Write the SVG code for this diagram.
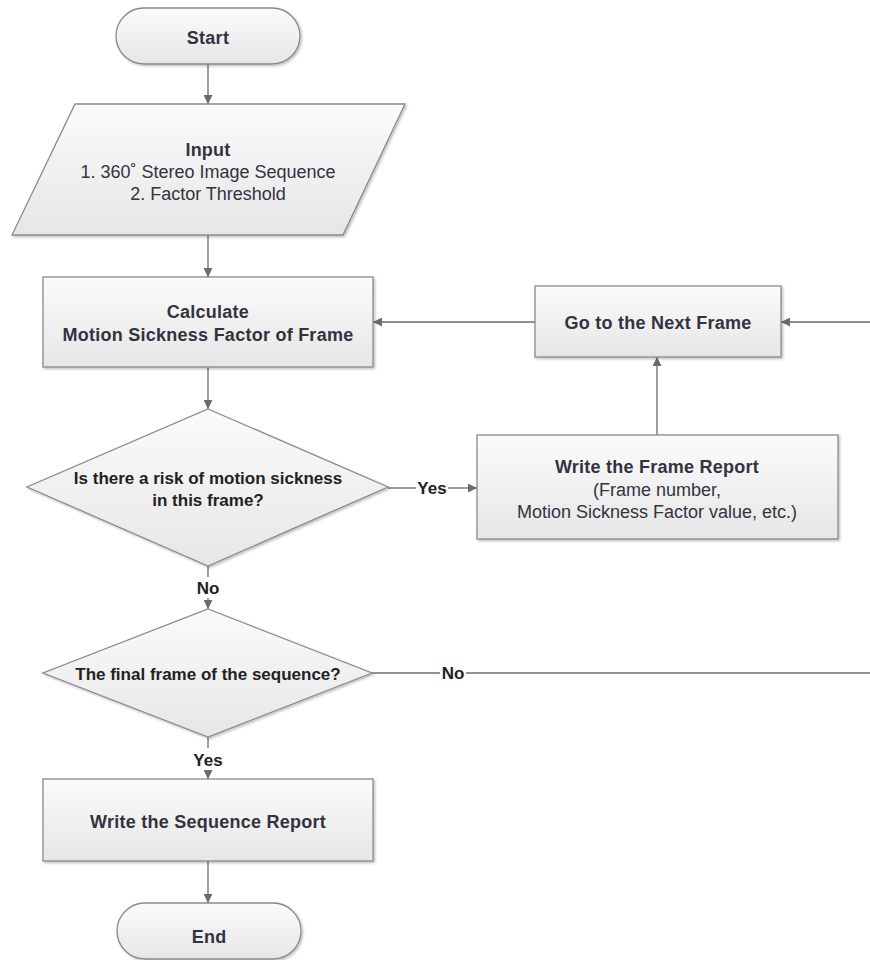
<svg xmlns="http://www.w3.org/2000/svg" width="870" height="960" viewBox="0 0 870 960">
<defs>
<linearGradient id="g" x1="0" y1="0" x2="0" y2="1">
<stop offset="0" stop-color="#fbfbfb"/>
<stop offset="1" stop-color="#e6e6e6"/>
</linearGradient>
<filter id="sh" x="-5%" y="-5%" width="115%" height="120%">
<feDropShadow dx="1.5" dy="1.5" stdDeviation="1" flood-color="#000" flood-opacity="0.25"/>
</filter>
<marker id="ah" viewBox="0 0 10 10" refX="10" refY="5" markerWidth="9" markerHeight="9" markerUnits="userSpaceOnUse" orient="auto">
<path d="M0,0 L10,5 L0,10 Z" fill="#6b6b6b"/>
</marker>
</defs>
<style>
.shape{fill:url(#g);stroke:#8a8a8a;stroke-width:1.3;filter:url(#sh)}
.t{font-family:"Liberation Sans",Arial,sans-serif;font-size:18px;fill:#333340;text-anchor:middle}
.b{font-weight:bold;letter-spacing:0.25px}
.d{font-family:"Liberation Sans",Tahoma,sans-serif;font-size:17px;font-weight:bold;fill:#222;text-anchor:middle}
.c{fill:none;stroke:#6b6b6b;stroke-width:1.3}
.lbl{font-family:"Liberation Sans",Tahoma,sans-serif;font-size:17px;font-weight:bold;fill:#222;text-anchor:middle}
</style>
<rect width="870" height="960" fill="#fff"/>
<g id="connectors">
<line class="c" x1="208" y1="64" x2="208" y2="104" marker-end="url(#ah)"/>
<line class="c" x1="208" y1="235" x2="208" y2="277" marker-end="url(#ah)"/>
<line class="c" x1="208" y1="367" x2="208" y2="409" marker-end="url(#ah)"/>
<line class="c" x1="388" y1="488" x2="416" y2="488"/>
<line class="c" x1="448" y1="488" x2="477" y2="488" marker-end="url(#ah)"/>
<text class="lbl" x="432" y="494">Yes</text>
<line class="c" x1="657" y1="435" x2="657" y2="357" marker-end="url(#ah)"/>
<line class="c" x1="535" y1="322" x2="373" y2="322" marker-end="url(#ah)"/>
<line class="c" x1="870" y1="322" x2="781" y2="322" marker-end="url(#ah)"/>
<line class="c" x1="208" y1="566" x2="208" y2="577"/>
<line class="c" x1="208" y1="598" x2="208" y2="609" marker-end="url(#ah)"/>
<text class="lbl" x="208" y="594">No</text>
<line class="c" x1="372" y1="673" x2="440" y2="673"/>
<line class="c" x1="466" y1="673" x2="870" y2="673"/>
<text class="lbl" x="453" y="679">No</text>
<line class="c" x1="208" y1="737" x2="208" y2="748"/>
<line class="c" x1="208" y1="770" x2="208" y2="779" marker-end="url(#ah)"/>
<text class="lbl" x="208" y="766">Yes</text>
<line class="c" x1="208" y1="861" x2="208" y2="903" marker-end="url(#ah)"/>
</g>
<g id="start">
<rect class="shape" x="116" y="8" width="184" height="56" rx="28" ry="28"/>
<text class="t b" x="208" y="44">Start</text>
</g>
<g id="input">
<polygon class="shape" points="75,104 405,104 343,235 12,235"/>
<text class="t b" x="208" y="156">Input</text>
<text class="t" x="208" y="178">1. 360˚ Stereo Image Sequence</text>
<text class="t" x="208" y="200">2. Factor Threshold</text>
</g>
<g id="calculate">
<rect class="shape" x="43" y="277" width="330" height="90"/>
<text class="t b" x="208" y="318">Calculate</text>
<text class="t b" x="208" y="341">Motion Sickness Factor of Frame</text>
</g>
<g id="next-frame">
<rect class="shape" x="535" y="286" width="246" height="71"/>
<text class="t b" x="658" y="329">Go to the Next Frame</text>
</g>
<g id="risk-decision">
<polygon class="shape" points="208,409 388,487 208,566 27,487"/>
<text class="d" x="208" y="484">Is there a risk of motion sickness</text>
<text class="d" x="208" y="506">in this frame?</text>
</g>
<g id="frame-report">
<rect class="shape" x="477" y="435" width="361" height="104"/>
<text class="t b" x="657" y="473">Write the Frame Report</text>
<text class="t" x="657" y="496">(Frame number,</text>
<text class="t" x="657" y="518">Motion Sickness Factor value, etc.)</text>
</g>
<g id="final-decision">
<polygon class="shape" points="208,609 372,673 208,737 43,673"/>
<text class="d" x="208" y="680">The final frame of the sequence?</text>
</g>
<g id="sequence-report">
<rect class="shape" x="43" y="779" width="330" height="82"/>
<text class="t b" x="208" y="828">Write the Sequence Report</text>
</g>
<g id="end">
<rect class="shape" x="117" y="903" width="184" height="56" rx="28" ry="28"/>
<text class="t b" x="209" y="943">End</text>
</g>
</svg>
